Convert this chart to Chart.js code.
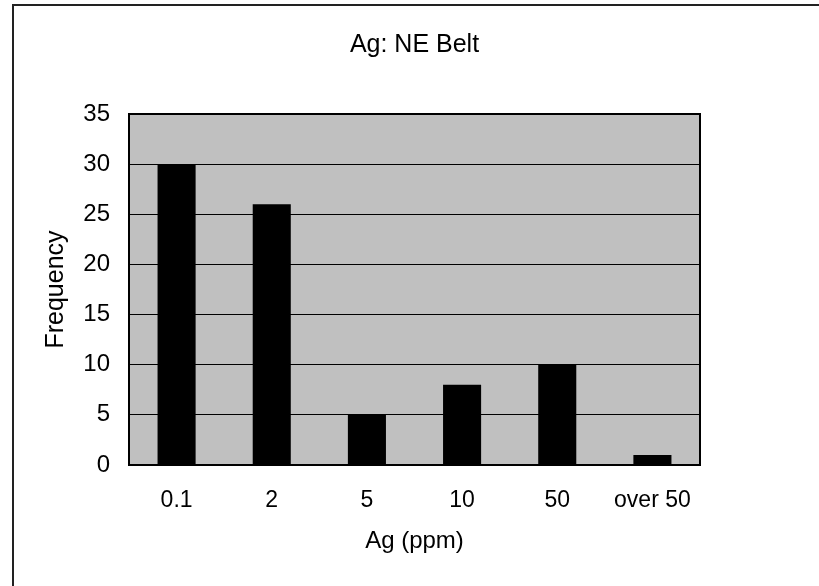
<!DOCTYPE html>
<html>
<head>
<meta charset="utf-8">
<script src="https://cdn.jsdelivr.net/npm/chart.js@4"></script>
<style>
  html, body { margin: 0; padding: 0; background: #fff; overflow: hidden; }
  #wrap { position: relative; width: 819px; height: 586px; }
  #frame { position: absolute; left: 12px; top: 4px; width: 900px; height: 700px; border: 2px solid #222; }
  canvas { position: absolute; left: 0; top: 0; }
</style>
</head>
<body>
<div id="wrap">
  <div id="frame"></div>
  <canvas id="chart" width="819" height="586"></canvas>
</div>
<script>
// data
const categories = ['0.1', '2', '5', '10', '50', 'over 50'];
const frequencies = [30, 26, 5, 8, 10, 1];
const yMin = 0, yMax = 35, yStep = 5;

const FONT = '"Liberation Sans", Arial, sans-serif';

// gray plot area + dark frame, like the old Excel chart
const plotArea = {
    id: 'plotArea',
    beforeDraw(chart) {
        const { ctx, chartArea: a } = chart;
        ctx.save();
        ctx.fillStyle = '#c0c0c0';
        ctx.fillRect(a.left, a.top, a.right - a.left, a.bottom - a.top);
        ctx.restore();
    },
    afterDraw(chart) {
        const { ctx, chartArea: a } = chart;
        ctx.save();
        ctx.strokeStyle = '#000';
        ctx.lineWidth = 2;
        ctx.strokeRect(a.left, a.top, a.right - a.left, a.bottom - a.top);
        ctx.restore();
    }
};

new Chart(document.getElementById('chart'), {
    type: 'bar',
    data: {
        labels: categories,
        datasets: [{
            label: 'Frequency',
            data: frequencies,
            backgroundColor: '#000',
            borderWidth: 0,
            categoryPercentage: 1.0,
            barPercentage: 0.4
        }]
    },
    options: {
        responsive: false,
        animation: false,
        layout: { padding: { left: 0, right: 119, top: 0, bottom: 0 } },
        plugins: {
            legend: { display: false },
            tooltip: { enabled: false },
            title: {
                display: true,
                fullSize: false,   // centre over the plot, not the canvas
                text: 'Ag: NE Belt',
                color: '#000',
                font: { family: FONT, size: 25, weight: 'normal' },
                padding: { top: 30, bottom: 54 }
            }
        },
        scales: {
            x: {
                grid: { display: false, drawTicks: false },
                border: { display: false },
                ticks: {
                    color: '#000',
                    padding: 22,
                    font: { family: FONT, size: 23 }
                },
                title: {
                    display: true,
                    text: 'Ag (ppm)',
                    color: '#000',
                    font: { family: FONT, size: 24 },
                    padding: { top: 0, bottom: 30 }
                },
                afterFit(scale) { scale.height = 121; }
            },
            y: {
                min: yMin,
                max: yMax,
                grid: { color: '#000', lineWidth: 1, drawTicks: false },
                border: { display: true, color: '#000', width: 2 },
                ticks: {
                    stepSize: yStep,
                    color: '#000',
                    padding: 19,
                    font: { family: FONT, size: 24 }
                },
                title: {
                    display: true,
                    text: 'Frequency',
                    color: '#000',
                    font: { family: FONT, size: 25 },
                    padding: { top: 41, bottom: 0 }
                },
                afterFit(scale) { scale.width = 129; }
            }
        }
    },
    plugins: [plotArea]
});
</script>
</body>
</html>
